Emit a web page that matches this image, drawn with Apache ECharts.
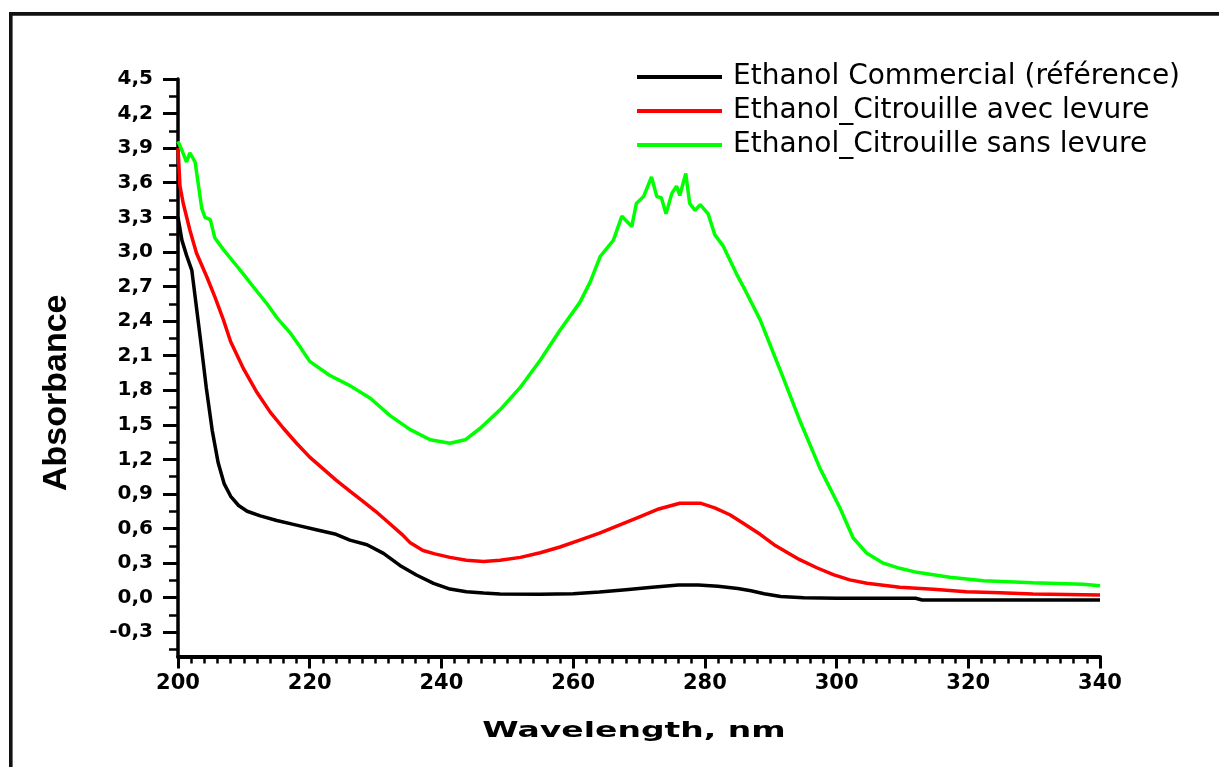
<!DOCTYPE html>
<html>
<head>
<meta charset="utf-8">
<title>Absorbance spectra</title>
<script src="https://cdn.jsdelivr.net/npm/echarts@6/dist/echarts.min.js"></script>
<style>
  html, body { margin: 0; padding: 0; background: #fff; }
  #chart { width: 1219px; height: 767px; }
</style>
</head>
<body>
<div id="chart"></div>
<script>
// Series names (legend order)
const seriesNames = [
  'Ethanol Commercial (référence)',
  'Ethanol_Citrouille avec levure',
  'Ethanol_Citrouille sans levure'
];
const seriesColors = ['#000000', '#ff0000', '#00ff00'];

// Ethanol Commercial (référence)
const commercialWl = [200, 200.6, 201.3, 202.1, 202.8, 203.5, 204.3, 205.2, 206.1, 207, 208, 209.2, 210.5, 212.5, 215, 218, 221, 224, 226.1, 228.7, 231.2, 233.7, 236.2, 238.8, 241.3, 243.8, 246.4, 248.9, 255, 260, 264, 268, 272, 276, 279, 282, 285, 287, 289, 291.5, 295, 300, 312, 313, 340];
const commercialAbs = [3.30, 3.10, 2.97, 2.84, 2.52, 2.20, 1.82, 1.45, 1.17, 0.99, 0.88, 0.80, 0.75, 0.71, 0.67, 0.63, 0.59, 0.55, 0.50, 0.46, 0.385, 0.28, 0.197, 0.125, 0.075, 0.052, 0.04, 0.033, 0.03, 0.035, 0.05, 0.07, 0.09, 0.11, 0.11, 0.10, 0.08, 0.06, 0.035, 0.01, 0.0, -0.005, -0.005, -0.02, -0.02];

// Ethanol_Citrouille avec levure
const avecWl = [200, 200.3, 200.8, 201.8, 202.8, 204.4, 205.6, 206.9, 208, 210, 212, 214, 216, 218, 220, 222, 224, 226, 228, 230, 232, 234, 235.2, 237.2, 239, 241.3, 243.8, 246.4, 248.9, 252, 255, 258, 261, 264, 267, 270, 273, 276.2, 279.3, 281.5, 283.8, 286, 288.4, 290.5, 292.9, 294.4, 297, 299.5, 302, 304.6, 309.6, 314.7, 319.7, 324.8, 329.8, 340];
const avecAbs = [3.90, 3.57, 3.42, 3.19, 2.99, 2.78, 2.61, 2.41, 2.22, 1.98, 1.78, 1.61, 1.47, 1.34, 1.22, 1.12, 1.02, 0.93, 0.84, 0.75, 0.65, 0.55, 0.48, 0.41, 0.38, 0.35, 0.325, 0.315, 0.325, 0.35, 0.39, 0.44, 0.50, 0.56, 0.63, 0.70, 0.77, 0.82, 0.82, 0.78, 0.72, 0.64, 0.55, 0.46, 0.38, 0.33, 0.26, 0.20, 0.155, 0.125, 0.09, 0.073, 0.052, 0.043, 0.032, 0.023];

// Ethanol_Citrouille sans levure
const sansWl = [200, 200.6, 201.3, 201.8, 202.1, 202.6, 203.1, 203.6, 204.1, 204.9, 205.6, 206.9, 208.9, 209.9, 211.4, 213.5, 215, 217, 218.5, 220, 223, 226.1, 229.2, 232.2, 235.2, 238.3, 241.3, 243.6, 245.9, 248.9, 251.9, 255, 258, 261, 262.6, 264.1, 266.1, 267.4, 268.9, 269.6, 270.7, 271.9, 272.7, 273.4, 274.1, 275, 275.7, 276.2, 277.1, 277.7, 278.5, 279.3, 280.5, 281.5, 282.8, 283.8, 284.8, 286.1, 288.4, 291.4, 294.4, 297.5, 300.5, 302.5, 304.6, 307.1, 309.6, 312.2, 317.2, 322.3, 329.8, 337.4, 340];
const sansAbs = [3.96, 3.88, 3.78, 3.86, 3.87, 3.78, 3.58, 3.38, 3.30, 3.28, 3.12, 3.02, 2.88, 2.81, 2.70, 2.55, 2.43, 2.30, 2.18, 2.05, 1.93, 1.84, 1.73, 1.58, 1.46, 1.37, 1.34, 1.37, 1.47, 1.63, 1.82, 2.06, 2.32, 2.56, 2.74, 2.96, 3.10, 3.31, 3.22, 3.42, 3.48, 3.65, 3.48, 3.47, 3.33, 3.51, 3.57, 3.49, 3.68, 3.42, 3.36, 3.41, 3.33, 3.15, 3.05, 2.93, 2.81, 2.67, 2.41, 1.98, 1.54, 1.12, 0.78, 0.52, 0.385, 0.30, 0.255, 0.22, 0.177, 0.148, 0.13, 0.116, 0.104];

// Axis ticks
const xTickValues = [200, 220, 240, 260, 280, 300, 320, 340];
const yMajorTicks = [-0.3, 0, 0.3, 0.6, 0.9, 1.2, 1.5, 1.8, 2.1, 2.4, 2.7, 3.0, 3.3, 3.6, 3.9, 4.2, 4.5];
const yMinorTicks = [-0.45, -0.15, 0.15, 0.45, 0.75, 1.05, 1.35, 1.65, 1.95, 2.25, 2.55, 2.85, 3.15, 3.45, 3.75, 4.05, 4.35];

const zip = (xs, ys) => xs.map((x, i) => [x, ys[i]]);
const seriesData = [
  zip(commercialWl, commercialAbs),
  zip(avecWl, avecAbs),
  zip(sansWl, sansAbs)
];

const yMin = -0.51, yMax = 4.5;
const fmtComma = v => (Math.round(v * 10) / 10).toFixed(1).replace('.', ',');

const chart = echarts.init(document.getElementById('chart'), null, { renderer: 'canvas' });

chart.setOption({
  backgroundColor: '#ffffff',
  animation: false,
  grid: { left: 178, right: 119, top: 79, bottom: 110.5, containLabel: false },
  legend: {
    data: seriesNames,
    orient: 'vertical',
    left: 637,
    top: 62,
    padding: 0,
    icon: 'rect',
    itemWidth: 85,
    itemHeight: 4,
    itemGap: 4,
    textStyle: {
      fontFamily: '"DejaVu Sans"',
      fontSize: 28,
      lineHeight: 30,
      color: '#000',
      padding: [0, 0, 0, 6]
    }
  },
  xAxis: {
    type: 'value',
    min: 200,
    max: 340,
    interval: 20,
    axisLine: { show: true, onZero: false, lineStyle: { color: '#000', width: 4 } },
    axisTick: { show: true, length: 12, lineStyle: { color: '#000', width: 3 } },
    minorTick: { show: true, splitNumber: 10, length: 7, lineStyle: { color: '#000', width: 2.5 } },
    axisLabel: {
      margin: 17,
      color: '#000',
      fontFamily: '"DejaVu Sans"',
      fontWeight: 'bold',
      fontSize: 21,
      formatter: v => xTickValues.includes(v) ? String(v) : ''
    },
    splitLine: { show: false },
    minorSplitLine: { show: false }
  },
  yAxis: [
    {
      type: 'value',
      min: yMin,
      max: yMax,
      position: 'left',
      name: 'Absorbance',
      nameLocation: 'middle',
      nameRotate: 90,
      nameGap: 104,
      nameTextStyle: {
        fontFamily: '"Liberation Sans"',
        fontWeight: 'bold',
        fontSize: 34,
        color: '#000',
        padding: [0, 50, 0, 0]
      },
      axisLine: { show: true, onZero: false, lineStyle: { color: '#000', width: 3.5 } },
      axisTick: { show: true, length: 15, customValues: yMajorTicks, lineStyle: { color: '#000', width: 3 } },
      axisLabel: {
        customValues: yMajorTicks,
        margin: 25,
        color: '#000',
        fontFamily: '"DejaVu Sans"',
        fontWeight: 'bold',
        fontSize: 20,
        formatter: v => fmtComma(v)
      },
      splitLine: { show: false }
    },
    {
      // minor ticks between the labelled values
      type: 'value',
      min: yMin,
      max: yMax,
      position: 'left',
      axisLine: { show: false },
      axisTick: { show: true, length: 9, customValues: yMinorTicks, lineStyle: { color: '#000', width: 2.5 } },
      axisLabel: { show: false },
      splitLine: { show: false }
    }
  ],
  graphic: [
    {
      type: 'rect',
      silent: true,
      z: -10,
      shape: { x: 10.8, y: 13.9, width: 1400, height: 1000 },
      style: { fill: 'none', stroke: '#111', lineWidth: 3.6 }
    },
    {
      type: 'text',
      silent: true,
      x: 634,
      y: 731,
      scaleX: 1.5,
      style: {
        text: 'Wavelength, nm',
        font: 'bold 22px "DejaVu Sans"',
        fill: '#000',
        align: 'center',
        verticalAlign: 'middle'
      }
    }
  ],
  series: seriesNames.map((name, i) => ({
    name: name,
    type: 'line',
    data: seriesData[i],
    showSymbol: false,
    symbol: 'none',
    clip: true,
    color: seriesColors[i],
    lineStyle: { color: seriesColors[i], width: 3.5 },
    z: 2 + i
  }))
});
</script>
</body>
</html>
